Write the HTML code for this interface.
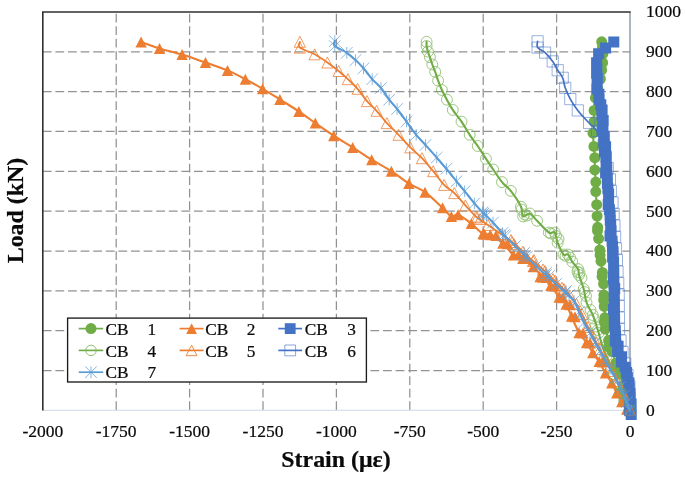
<!DOCTYPE html>
<html><head><meta charset="utf-8"><title>Load vs Strain</title>
<style>
html,body{margin:0;padding:0;background:#fff}
body{width:685px;height:478px;overflow:hidden}
text{font-family:"Liberation Serif","DejaVu Serif",serif;fill:#0a0a0a;stroke:#0a0a0a;stroke-width:0.22px}
.tk{font-size:17.5px}
.lg{font-size:17.3px}
.ttl{font-size:23.9px;font-weight:bold}
</style></head><body>
<svg width="685" height="478" viewBox="0 0 685 478" style="display:block">
<rect width="685" height="478" fill="#fff"/>
<path d="M116.20 410.00V11.95M189.60 410.00V11.95M263.00 410.00V11.95M336.40 410.00V11.95M409.80 410.00V11.95M483.20 410.00V11.95M556.60 410.00V11.95" stroke="#929292" stroke-width="1.25" stroke-dasharray="8.8 3.7" fill="none"/>
<path d="M42.80 51.80H630.00M42.80 91.64H630.00M42.80 131.48H630.00M42.80 171.33H630.00M42.80 211.17H630.00M42.80 251.02H630.00M42.80 290.87H630.00M42.80 330.71H630.00M42.80 370.55H630.00" stroke="#929292" stroke-width="1.25" stroke-dasharray="8.8 3.8" fill="none"/>
<path d="M42.80 410.40H630.00" stroke="#d9dfec" stroke-width="1.1" fill="none"/>
<path d="M630.00 11.95V410.40" stroke="#7f8896" stroke-width="1.25" fill="none"/>
<path d="M42.80 410.40V11.95H630.70" stroke="#303030" stroke-width="1.6" fill="none" stroke-linejoin="miter"/>
<path d="M601.7 41.8C601.8 42.7 602.3 45.3 602.5 47.3C602.7 49.3 602.8 51.3 602.8 53.9C602.8 56.5 602.8 60.0 602.6 62.7C602.4 65.4 602.0 67.3 601.6 70.0C601.2 72.7 601.1 76.0 600.4 79.0C599.7 82.0 598.4 84.8 597.6 88.0C596.8 91.2 596.0 94.2 595.4 97.9C594.8 101.6 594.3 106.4 594.1 110.4C593.9 114.4 594.3 117.9 594.1 121.7C593.9 125.5 593.0 129.1 593.0 133.2C593.0 137.3 593.6 142.3 593.9 146.4C594.2 150.5 594.6 153.8 594.8 157.7C594.9 161.6 594.6 165.8 594.8 169.9C595.0 174.0 595.6 178.5 595.8 182.1C596.0 185.7 595.6 187.8 595.8 191.6C595.9 195.4 596.5 200.6 596.7 204.7C596.9 208.8 596.9 212.2 597.1 216.0C597.2 219.8 597.5 223.5 597.7 227.3C598.0 231.1 598.2 234.8 598.6 238.6C598.9 242.4 599.4 246.1 599.8 249.9C600.2 253.7 600.6 257.4 601.0 261.2C601.5 265.0 601.9 268.7 602.4 272.5C602.8 276.3 603.3 280.0 603.6 283.8C603.8 287.6 603.8 291.3 603.9 295.1C604.0 298.9 604.1 302.6 604.3 306.4C604.4 310.2 604.7 313.9 604.9 317.7C605.1 321.5 604.8 325.2 605.4 329.0C606.1 332.8 607.5 336.5 608.6 340.3C609.7 344.1 610.9 347.8 612.1 351.6C613.3 355.4 614.7 359.1 616.0 362.9C617.3 366.7 618.6 370.4 619.8 374.2C621.0 378.0 622.1 381.7 623.1 385.5C624.2 389.3 625.1 393.0 626.1 396.8C627.2 400.6 628.8 405.9 629.4 408.1C630.0 410.3 629.9 409.8 630.0 410.1" stroke="#70AD47" stroke-width="2.1" fill="none" stroke-linejoin="round" stroke-linecap="round"/>
<g fill="#70AD47"><circle cx="601.7" cy="41.8" r="5.5"/><circle cx="602.5" cy="47.3" r="5.5"/><circle cx="602.8" cy="53.9" r="5.5"/><circle cx="602.6" cy="62.7" r="5.5"/><circle cx="601.6" cy="70.0" r="5.5"/><circle cx="600.4" cy="79.0" r="5.5"/><circle cx="597.6" cy="88.0" r="5.5"/><circle cx="595.4" cy="97.9" r="5.5"/><circle cx="594.1" cy="110.4" r="5.5"/><circle cx="594.1" cy="121.7" r="5.5"/><circle cx="593.0" cy="133.2" r="5.5"/><circle cx="593.9" cy="146.4" r="5.5"/><circle cx="594.8" cy="157.7" r="5.5"/><circle cx="594.8" cy="169.9" r="5.5"/><circle cx="595.8" cy="182.1" r="5.5"/><circle cx="595.8" cy="191.6" r="5.5"/><circle cx="596.7" cy="204.7" r="5.5"/><circle cx="597.1" cy="216.0" r="5.5"/><circle cx="597.7" cy="227.3" r="5.5"/><circle cx="598.6" cy="238.6" r="5.5"/><circle cx="599.8" cy="249.9" r="5.5"/><circle cx="601.0" cy="261.2" r="5.5"/><circle cx="602.4" cy="272.5" r="5.5"/><circle cx="603.6" cy="283.8" r="5.5"/><circle cx="603.9" cy="295.1" r="5.5"/><circle cx="604.3" cy="306.4" r="5.5"/><circle cx="604.9" cy="317.7" r="5.5"/><circle cx="605.4" cy="329.0" r="5.5"/><circle cx="608.6" cy="340.3" r="5.5"/><circle cx="612.1" cy="351.6" r="5.5"/><circle cx="616.0" cy="362.9" r="5.5"/><circle cx="619.8" cy="374.2" r="5.5"/><circle cx="623.1" cy="385.5" r="5.5"/><circle cx="626.1" cy="396.8" r="5.5"/><circle cx="629.4" cy="408.1" r="5.5"/><circle cx="630.0" cy="410.1" r="5.5"/><circle cx="597.5" cy="230.7" r="5.5"/><circle cx="600.1" cy="255.1" r="5.5"/><circle cx="602.1" cy="276.4" r="5.5"/><circle cx="603.7" cy="300.0" r="5.5"/><circle cx="604.4" cy="321.9" r="5.5"/><circle cx="608.6" cy="346.7" r="5.5"/><circle cx="616.1" cy="367.0" r="5.5"/><circle cx="622.7" cy="390.3" r="5.5"/><circle cx="628.8" cy="411.9" r="5.5"/></g>
<path d="M141.1 42.0C144.2 43.1 152.7 46.3 159.5 48.4C166.3 50.5 174.4 52.2 182.1 54.6C189.8 57.0 197.9 59.9 205.5 62.5C213.1 65.1 220.9 67.6 227.5 70.4C234.1 73.2 239.5 76.1 245.3 79.2C251.2 82.3 256.8 85.4 262.6 88.8C268.4 92.2 273.8 95.6 279.9 99.4C285.9 103.2 293.0 107.5 298.9 111.4C304.8 115.4 309.5 119.0 315.3 123.1C321.1 127.1 327.5 131.6 333.7 135.7C339.9 139.8 346.4 143.4 352.7 147.4C359.0 151.4 365.2 155.7 371.7 159.7C378.1 163.7 385.2 167.2 391.4 171.2C397.6 175.2 403.3 180.0 408.9 183.5C414.5 187.0 419.4 188.1 425.0 192.2C430.6 196.2 438.2 203.8 442.6 207.8C447.0 211.9 448.8 215.3 451.4 216.5C454.0 217.7 454.8 213.6 458.1 214.8C461.4 216.0 467.2 220.4 471.3 223.6C475.4 226.8 479.8 232.0 483.0 233.8C486.2 235.7 487.0 233.1 490.3 234.7C493.6 236.3 499.0 239.9 502.9 243.3C506.8 246.7 510.1 252.5 513.4 255.0C516.7 257.5 519.5 256.6 522.8 258.5C526.1 260.4 530.0 263.6 533.3 266.7C536.6 269.8 539.8 274.2 542.7 277.3C545.6 280.4 548.2 282.2 550.9 285.5C553.6 288.8 556.6 294.1 559.1 297.2C561.6 300.3 564.0 301.0 566.1 304.2C568.2 307.4 569.4 311.6 571.5 316.3C573.6 321.1 576.5 328.3 579.0 332.7C581.5 337.1 584.2 339.3 586.5 342.7C588.8 346.1 590.7 349.6 592.8 352.8C594.9 356.0 597.0 358.2 599.1 361.6C601.2 365.0 603.3 369.3 605.4 372.9C607.5 376.4 609.8 379.5 611.7 382.9C613.6 386.2 615.0 389.9 616.7 393.0C618.4 396.1 620.0 399.1 621.7 401.8C623.4 404.5 625.3 407.9 626.7 409.3C628.1 410.7 629.5 410.0 630.0 410.1" stroke="#ED7D31" stroke-width="2.1" fill="none" stroke-linejoin="round" stroke-linecap="round"/>
<path d="M141.1 36.5L146.8 47.5L135.4 47.5ZM159.5 42.9L165.2 53.9L153.8 53.9ZM182.1 49.1L187.8 60.1L176.4 60.1ZM205.5 57.0L211.2 68.0L199.8 68.0ZM227.5 64.9L233.2 75.9L221.8 75.9ZM245.3 73.7L251.0 84.7L239.7 84.7ZM262.6 83.3L268.2 94.3L257.0 94.3ZM279.9 93.9L285.5 104.9L274.2 104.9ZM298.9 105.9L304.5 116.9L293.2 116.9ZM315.3 117.6L320.9 128.6L309.7 128.6ZM333.7 130.2L339.3 141.2L328.1 141.2ZM352.7 141.9L358.3 152.9L347.1 152.9ZM371.7 154.2L377.3 165.2L366.1 165.2ZM391.4 165.7L397.0 176.7L385.8 176.7ZM408.9 178.0L414.5 189.0L403.2 189.0ZM425.0 186.7L430.6 197.7L419.4 197.7ZM442.6 202.3L448.2 213.3L437.0 213.3ZM451.4 211.0L457.0 222.0L445.8 222.0ZM458.1 209.3L463.8 220.3L452.5 220.3ZM471.3 218.1L476.9 229.1L465.7 229.1ZM483.0 228.3L488.6 239.3L477.4 239.3ZM490.3 229.2L495.9 240.2L484.7 240.2ZM502.9 237.8L508.5 248.8L497.2 248.8ZM513.4 249.5L519.0 260.5L507.8 260.5ZM522.8 253.0L528.4 264.0L517.1 264.0ZM533.3 261.2L538.9 272.2L527.6 272.2ZM542.7 271.8L548.4 282.8L537.1 282.8ZM550.9 280.0L556.5 291.0L545.2 291.0ZM559.1 291.7L564.8 302.7L553.5 302.7ZM566.1 298.7L571.8 309.7L560.5 309.7ZM571.5 310.8L577.1 321.8L565.9 321.8ZM579.0 327.2L584.6 338.2L573.4 338.2ZM586.5 337.2L592.1 348.2L580.9 348.2ZM592.8 347.3L598.4 358.3L587.1 358.3ZM599.1 356.1L604.8 367.1L593.5 367.1ZM605.4 367.4L611.0 378.4L599.8 378.4ZM611.7 377.4L617.4 388.4L606.1 388.4ZM616.7 387.5L622.4 398.5L611.1 398.5ZM621.7 396.3L627.4 407.3L616.1 407.3ZM626.7 403.8L632.4 414.8L621.1 414.8ZM630.0 404.6L635.6 415.6L624.4 415.6ZM484.5 228.7L490.1 239.7L478.9 239.7ZM496.0 230.0L501.6 241.0L490.4 241.0ZM507.5 238.3L513.1 249.3L501.9 249.3ZM518.5 249.0L524.1 260.0L512.9 260.0ZM527.5 253.0L533.1 264.0L521.9 264.0ZM540.0 271.3L545.6 282.3L534.4 282.3ZM546.5 272.1L552.1 283.1L540.9 283.1ZM555.0 280.5L560.6 291.5L549.4 291.5ZM563.0 292.3L568.6 303.3L557.4 303.3ZM570.0 299.3L575.6 310.3L564.4 310.3ZM575.0 311.3L580.6 322.3L569.4 322.3ZM583.0 327.5L588.6 338.5L577.4 338.5ZM590.0 337.5L595.6 348.5L584.4 348.5ZM602.5 356.5L608.1 367.5L596.9 367.5Z" fill="#ED7D31"/>
<path d="M613.8 42.0C612.4 43.0 608.1 45.9 605.6 47.9C603.1 49.9 600.1 51.2 598.6 53.7C597.1 56.2 596.9 59.5 596.6 62.7C596.3 66.0 596.5 69.7 596.6 73.2C596.7 76.7 596.8 80.2 597.1 83.7C597.5 87.2 598.2 90.7 598.9 94.2C599.5 97.7 600.3 101.2 600.8 104.7C601.4 108.2 601.6 111.7 601.9 115.2C602.3 118.7 602.5 122.2 602.9 125.7C603.3 129.2 603.9 132.7 604.3 136.2C604.7 139.7 605.3 143.2 605.6 146.7C605.9 150.2 605.9 153.7 606.1 157.2C606.3 160.7 606.5 164.2 606.7 167.7C606.9 171.2 607.1 174.7 607.3 178.2C607.5 181.7 607.7 185.2 607.9 188.7C608.2 192.2 608.4 195.7 608.6 199.2C608.9 202.7 609.1 206.2 609.4 209.7C609.7 213.2 610.0 216.7 610.3 220.2C610.5 223.7 610.8 227.2 611.1 230.7C611.4 234.2 611.8 237.7 612.1 241.2C612.4 244.7 612.8 248.2 613.1 251.7C613.3 255.2 613.5 258.7 613.6 262.2C613.7 265.7 613.7 269.2 613.8 272.7C613.8 276.2 613.9 279.7 613.9 283.2C614.0 286.7 614.1 290.2 614.1 293.7C614.2 297.2 614.3 300.7 614.3 304.2C614.3 307.7 614.3 311.2 614.3 314.7C614.3 318.2 614.1 321.7 614.3 325.2C614.5 328.7 615.0 332.2 615.6 335.7C616.3 339.2 617.2 342.7 618.1 346.2C619.1 349.7 620.3 353.2 621.5 356.7C622.7 360.2 624.2 363.7 625.2 367.2C626.2 370.7 626.8 374.2 627.4 377.7C628.1 381.2 628.9 384.7 629.3 388.2C629.7 391.7 629.6 395.2 629.7 398.7C629.8 402.2 630.0 407.3 630.0 409.2C630.0 411.1 630.0 410.0 630.0 410.1" stroke="#4472C4" stroke-width="2.1" fill="none" stroke-linejoin="round" stroke-linecap="round"/>
<path d="M608.3 36.5h11.0v11.0h-11.0zM600.1 42.4h11.0v11.0h-11.0zM593.1 48.2h11.0v11.0h-11.0zM591.1 57.2h11.0v11.0h-11.0zM591.1 67.7h11.0v11.0h-11.0zM591.6 78.2h11.0v11.0h-11.0zM593.4 88.7h11.0v11.0h-11.0zM595.3 99.2h11.0v11.0h-11.0zM596.4 109.7h11.0v11.0h-11.0zM597.4 120.2h11.0v11.0h-11.0zM598.8 130.7h11.0v11.0h-11.0zM600.1 141.2h11.0v11.0h-11.0zM600.6 151.7h11.0v11.0h-11.0zM601.2 162.2h11.0v11.0h-11.0zM601.8 172.7h11.0v11.0h-11.0zM602.4 183.2h11.0v11.0h-11.0zM603.1 193.7h11.0v11.0h-11.0zM603.9 204.2h11.0v11.0h-11.0zM604.8 214.7h11.0v11.0h-11.0zM605.6 225.2h11.0v11.0h-11.0zM606.6 235.7h11.0v11.0h-11.0zM607.6 246.2h11.0v11.0h-11.0zM608.1 256.7h11.0v11.0h-11.0zM608.3 267.2h11.0v11.0h-11.0zM608.4 277.7h11.0v11.0h-11.0zM608.6 288.2h11.0v11.0h-11.0zM608.8 298.7h11.0v11.0h-11.0zM608.8 309.2h11.0v11.0h-11.0zM608.8 319.7h11.0v11.0h-11.0zM610.1 330.2h11.0v11.0h-11.0zM612.6 340.7h11.0v11.0h-11.0zM616.0 351.2h11.0v11.0h-11.0zM619.7 361.7h11.0v11.0h-11.0zM621.9 372.2h11.0v11.0h-11.0zM623.8 382.7h11.0v11.0h-11.0zM624.2 393.2h11.0v11.0h-11.0zM624.5 403.7h11.0v11.0h-11.0zM624.5 404.6h11.0v11.0h-11.0zM591.4 62.4h11.0v11.0h-11.0zM591.9 72.9h11.0v11.0h-11.0zM591.3 83.4h11.0v11.0h-11.0zM593.6 93.9h11.0v11.0h-11.0zM596.6 104.4h11.0v11.0h-11.0zM597.7 114.9h11.0v11.0h-11.0zM596.6 125.4h11.0v11.0h-11.0zM598.2 135.9h11.0v11.0h-11.0zM599.0 146.4h11.0v11.0h-11.0zM600.6 156.9h11.0v11.0h-11.0zM600.1 167.4h11.0v11.0h-11.0zM601.9 177.9h11.0v11.0h-11.0zM603.1 188.4h11.0v11.0h-11.0zM602.7 198.9h11.0v11.0h-11.0zM604.6 209.4h11.0v11.0h-11.0zM605.2 219.9h11.0v11.0h-11.0zM604.5 230.4h11.0v11.0h-11.0zM607.0 240.9h11.0v11.0h-11.0zM607.1 251.4h11.0v11.0h-11.0zM608.1 261.9h11.0v11.0h-11.0zM607.9 272.4h11.0v11.0h-11.0zM609.2 282.9h11.0v11.0h-11.0zM608.6 293.4h11.0v11.0h-11.0zM608.0 303.9h11.0v11.0h-11.0zM609.1 314.4h11.0v11.0h-11.0zM609.8 324.9h11.0v11.0h-11.0zM609.8 335.4h11.0v11.0h-11.0zM612.1 345.9h11.0v11.0h-11.0zM615.9 356.4h11.0v11.0h-11.0zM621.1 366.9h11.0v11.0h-11.0zM623.5 377.4h11.0v11.0h-11.0zM624.5 387.9h11.0v11.0h-11.0zM625.6 398.4h11.0v11.0h-11.0zM625.7 408.9h11.0v11.0h-11.0z" fill="#4472C4"/>
<path d="M426.6 41.8C426.6 42.5 426.4 44.4 426.6 46.0C426.8 47.6 427.3 49.7 427.9 51.6C428.4 53.5 429.2 55.1 429.9 57.2C430.6 59.4 431.4 62.0 432.3 64.5C433.2 67.0 434.2 69.2 435.2 71.9C436.2 74.6 437.0 77.6 438.1 80.6C439.2 83.6 440.4 86.8 441.9 90.0C443.4 93.2 445.1 96.4 446.9 99.7C448.7 103.0 450.4 106.2 452.8 109.9C455.2 113.6 458.7 117.4 461.5 121.6C464.3 125.8 467.0 130.7 469.7 134.8C472.4 138.9 475.0 142.0 477.7 146.0C480.4 150.0 483.3 154.8 485.9 158.7C488.5 162.6 490.5 165.6 493.2 169.5C495.9 173.4 499.1 178.5 502.0 182.1C504.9 185.7 507.6 186.8 510.8 190.9C514.0 195.0 519.0 202.4 521.0 206.7C523.0 210.9 521.6 215.3 523.1 216.4C524.6 217.5 527.5 212.8 529.8 213.5C532.1 214.2 533.9 217.6 537.1 220.8C540.3 224.0 545.9 230.6 548.8 232.5C551.7 234.4 553.2 230.8 554.7 232.5C556.2 234.2 556.1 239.0 557.6 242.7C559.1 246.4 561.8 252.5 563.5 254.5C565.2 256.5 566.4 253.3 567.9 254.5C569.4 255.7 570.6 259.4 572.3 261.8C574.0 264.2 577.0 266.9 578.1 269.1C579.2 271.3 578.1 271.7 579.0 275.0C579.9 278.3 582.5 284.4 583.7 289.0C585.0 293.6 585.0 298.2 586.5 302.5C588.0 306.8 590.9 310.4 592.8 315.0C594.7 319.6 596.1 324.6 597.8 330.0C599.5 335.4 601.4 343.4 602.9 347.7C604.4 352.0 605.2 353.1 606.5 356.0C607.8 358.9 609.1 362.3 610.4 365.3C611.6 368.3 612.7 371.1 614.0 374.0C615.3 376.9 616.8 380.0 618.0 383.0C619.2 386.0 620.0 389.1 621.0 392.0C622.0 394.9 622.7 397.5 624.2 400.5C625.7 403.5 629.0 408.5 630.0 410.1" stroke="#70AD47" stroke-width="2.1" fill="none" stroke-linejoin="round" stroke-linecap="round"/>
<g fill="none" stroke="#70AD47" stroke-width="0.95" opacity="0.72"><circle cx="426.6" cy="41.8" r="5.45"/><circle cx="426.6" cy="46.0" r="5.45"/><circle cx="427.9" cy="51.6" r="5.45"/><circle cx="429.9" cy="57.2" r="5.45"/><circle cx="432.3" cy="64.5" r="5.45"/><circle cx="435.2" cy="71.9" r="5.45"/><circle cx="438.1" cy="80.6" r="5.45"/><circle cx="441.9" cy="90.0" r="5.45"/><circle cx="446.9" cy="99.7" r="5.45"/><circle cx="452.8" cy="109.9" r="5.45"/><circle cx="461.5" cy="121.6" r="5.45"/><circle cx="469.7" cy="134.8" r="5.45"/><circle cx="477.7" cy="146.0" r="5.45"/><circle cx="485.9" cy="158.7" r="5.45"/><circle cx="493.2" cy="169.5" r="5.45"/><circle cx="502.0" cy="182.1" r="5.45"/><circle cx="510.8" cy="190.9" r="5.45"/><circle cx="521.0" cy="206.7" r="5.45"/><circle cx="523.1" cy="216.4" r="5.45"/><circle cx="529.8" cy="213.5" r="5.45"/><circle cx="537.1" cy="220.8" r="5.45"/><circle cx="548.8" cy="232.5" r="5.45"/><circle cx="554.7" cy="232.5" r="5.45"/><circle cx="557.6" cy="242.7" r="5.45"/><circle cx="563.5" cy="254.5" r="5.45"/><circle cx="567.9" cy="254.5" r="5.45"/><circle cx="572.3" cy="261.8" r="5.45"/><circle cx="578.1" cy="269.1" r="5.45"/><circle cx="579.0" cy="275.0" r="5.45"/><circle cx="583.7" cy="289.0" r="5.45"/><circle cx="586.5" cy="302.5" r="5.45"/><circle cx="592.8" cy="315.0" r="5.45"/><circle cx="597.8" cy="330.0" r="5.45"/><circle cx="602.9" cy="347.7" r="5.45"/><circle cx="606.5" cy="356.0" r="5.45"/><circle cx="610.4" cy="365.3" r="5.45"/><circle cx="614.0" cy="374.0" r="5.45"/><circle cx="618.0" cy="383.0" r="5.45"/><circle cx="621.0" cy="392.0" r="5.45"/><circle cx="624.2" cy="400.5" r="5.45"/><circle cx="630.0" cy="410.1" r="5.45"/><circle cx="521.5" cy="209.5" r="5.45"/><circle cx="524.5" cy="214.5" r="5.45"/><circle cx="527.0" cy="215.5" r="5.45"/><circle cx="551.0" cy="233.5" r="5.45"/><circle cx="556.0" cy="236.0" r="5.45"/><circle cx="558.5" cy="239.0" r="5.45"/><circle cx="565.5" cy="255.8" r="5.45"/><circle cx="570.0" cy="257.5" r="5.45"/><circle cx="579.5" cy="272.5" r="5.45"/><circle cx="581.5" cy="278.0" r="5.45"/><circle cx="577.5" cy="272.0" r="5.45"/><circle cx="584.5" cy="292.0" r="5.45"/><circle cx="586.0" cy="296.0" r="5.45"/><circle cx="590.5" cy="310.0" r="5.45"/><circle cx="593.5" cy="318.5" r="5.45"/><circle cx="595.5" cy="326.5" r="5.45"/><circle cx="598.5" cy="333.0" r="5.45"/></g>
<path d="M299.9 41.8C299.9 42.8 297.4 45.5 299.9 47.6C302.3 49.7 310.0 51.8 314.6 54.3C319.2 56.8 323.4 59.7 327.4 62.5C331.4 65.3 335.2 68.2 338.6 71.0C342.0 73.8 344.7 76.2 347.9 79.2C351.1 82.2 354.4 85.2 357.6 88.8C360.8 92.4 363.8 97.4 367.0 101.1C370.2 104.8 373.3 107.1 376.6 110.8C379.9 114.5 383.2 119.1 386.9 123.1C390.6 127.1 394.7 130.8 398.6 134.8C402.5 138.9 406.4 143.5 410.3 147.4C414.2 151.3 418.2 154.2 422.0 158.2C425.8 162.2 429.5 166.8 433.2 171.2C436.9 175.6 440.6 181.2 444.1 184.9C447.6 188.6 450.8 189.7 454.3 193.1C457.9 196.5 461.8 201.5 465.4 205.4C469.0 209.3 472.1 213.2 475.9 216.5C479.7 219.8 483.8 222.1 488.0 225.0C492.2 227.9 497.0 231.2 501.0 234.0C505.0 236.8 508.3 239.1 512.0 242.0C515.7 244.9 519.5 248.3 523.0 251.5C526.5 254.7 529.7 258.0 533.0 261.0C536.3 264.0 539.7 266.5 543.0 269.5C546.3 272.5 549.8 276.0 553.0 279.0C556.2 282.0 559.2 284.8 562.0 287.5C564.8 290.2 567.6 292.8 570.0 295.5C572.4 298.2 574.5 300.9 576.5 304.0C578.5 307.1 580.1 310.2 582.0 314.0C583.9 317.8 586.0 323.0 588.0 327.0C590.0 331.0 592.0 334.3 594.0 338.0C596.0 341.7 598.0 345.3 600.0 349.0C602.0 352.7 604.0 356.3 606.0 360.0C608.0 363.7 610.2 367.5 612.0 371.0C613.8 374.5 615.3 377.7 617.0 381.0C618.7 384.3 620.5 387.8 622.0 391.0C623.5 394.2 624.7 396.8 626.0 400.0C627.3 403.2 629.3 408.4 630.0 410.1" stroke="#ED7D31" stroke-width="1.8" fill="none" stroke-linejoin="round" stroke-linecap="round"/>
<path d="M299.9 36.3L305.5 47.3L294.2 47.3ZM299.9 42.1L305.5 53.1L294.2 53.1ZM314.6 48.8L320.2 59.8L309.0 59.8ZM327.4 57.0L333.0 68.0L321.8 68.0ZM338.6 65.5L344.2 76.5L333.0 76.5ZM347.9 73.7L353.5 84.7L342.2 84.7ZM357.6 83.3L363.2 94.3L352.0 94.3ZM367.0 95.6L372.6 106.6L361.4 106.6ZM376.6 105.3L382.2 116.3L371.0 116.3ZM386.9 117.6L392.5 128.6L381.2 128.6ZM398.6 129.3L404.2 140.3L393.0 140.3ZM410.3 141.9L415.9 152.9L404.7 152.9ZM422.0 152.7L427.6 163.7L416.4 163.7ZM433.2 165.7L438.8 176.7L427.6 176.7ZM444.1 179.4L449.8 190.4L438.5 190.4ZM454.3 187.6L459.9 198.6L448.7 198.6ZM465.4 199.9L471.0 210.9L459.8 210.9ZM475.9 211.0L481.5 222.0L470.2 222.0ZM488.0 219.5L493.6 230.5L482.4 230.5ZM501.0 228.5L506.6 239.5L495.4 239.5ZM512.0 236.5L517.6 247.5L506.4 247.5ZM523.0 246.0L528.6 257.0L517.4 257.0ZM533.0 255.5L538.6 266.5L527.4 266.5ZM543.0 264.0L548.6 275.0L537.4 275.0ZM553.0 273.5L558.6 284.5L547.4 284.5ZM562.0 282.0L567.6 293.0L556.4 293.0ZM570.0 290.0L575.6 301.0L564.4 301.0ZM576.5 298.5L582.1 309.5L570.9 309.5ZM582.0 308.5L587.6 319.5L576.4 319.5ZM588.0 321.5L593.6 332.5L582.4 332.5ZM594.0 332.5L599.6 343.5L588.4 343.5ZM600.0 343.5L605.6 354.5L594.4 354.5ZM606.0 354.5L611.6 365.5L600.4 365.5ZM612.0 365.5L617.6 376.5L606.4 376.5ZM617.0 375.5L622.6 386.5L611.4 386.5ZM622.0 385.5L627.6 396.5L616.4 396.5ZM626.0 394.5L631.6 405.5L620.4 405.5ZM630.0 404.6L635.6 415.6L624.4 415.6ZM477.0 212.0L482.6 223.0L471.4 223.0ZM480.0 213.5L485.6 224.5L474.4 224.5ZM511.0 234.5L516.6 245.5L505.4 245.5ZM514.0 238.5L519.6 249.5L508.4 249.5ZM534.0 254.5L539.6 265.5L528.4 265.5ZM545.0 265.5L550.6 276.5L539.4 276.5ZM555.0 275.0L560.6 286.0L549.4 286.0ZM564.0 283.5L569.6 294.5L558.4 294.5Z" fill="none" stroke="#ED7D31" stroke-width="0.9" opacity="0.85"/>
<path d="M537.6 41.3C537.6 42.3 536.4 45.7 537.6 47.6C538.9 49.5 542.6 50.3 545.1 52.6C547.6 54.9 550.6 58.5 552.7 61.4C554.8 64.3 556.0 67.5 557.7 70.2C559.4 72.9 561.5 74.9 562.7 77.8C564.0 80.7 563.9 84.2 565.2 87.8C566.5 91.3 568.2 95.3 570.3 99.1C572.4 102.9 574.7 106.4 577.8 110.4C580.9 114.4 585.9 119.6 589.1 123.0C592.3 126.4 594.6 127.3 597.0 131.0C599.4 134.7 602.1 140.8 603.6 145.0C605.1 149.2 605.0 152.7 605.7 156.5C606.4 160.3 607.0 164.2 607.7 168.0C608.4 171.8 609.4 175.7 609.9 179.5C610.4 183.3 610.4 187.2 610.8 191.0C611.3 194.8 612.1 198.7 612.5 202.5C613.0 206.3 613.3 210.2 613.6 214.0C613.9 217.8 614.1 221.7 614.4 225.5C614.6 229.3 614.9 233.2 615.1 237.0C615.4 240.8 615.7 244.7 616.0 248.5C616.3 252.3 616.6 256.2 616.9 260.0C617.1 263.8 617.3 267.7 617.5 271.5C617.8 275.3 618.0 279.2 618.2 283.0C618.4 286.8 618.6 290.7 618.7 294.5C618.8 298.3 618.8 302.2 618.8 306.0C618.8 309.8 618.9 313.7 618.9 317.5C618.9 321.3 618.7 325.2 619.0 329.0C619.3 332.8 620.0 336.7 620.5 340.5C621.1 344.3 621.7 348.2 622.5 352.0C623.3 355.8 624.5 359.7 625.3 363.5C626.1 367.3 626.9 371.2 627.5 375.0C628.2 378.8 629.0 382.7 629.4 386.5C629.8 390.3 629.8 394.2 629.9 398.0C630.0 401.8 630.0 407.5 630.0 409.5C630.0 411.5 630.0 410.0 630.0 410.1" stroke="#4472C4" stroke-width="1.7" fill="none" stroke-linejoin="round" stroke-linecap="round"/>
<path d="M532.0 35.7h11.2v11.2h-11.2zM532.0 42.0h11.2v11.2h-11.2zM539.5 47.0h11.2v11.2h-11.2zM547.1 55.8h11.2v11.2h-11.2zM552.1 64.6h11.2v11.2h-11.2zM557.1 72.2h11.2v11.2h-11.2zM559.6 82.2h11.2v11.2h-11.2zM564.7 93.5h11.2v11.2h-11.2zM572.2 104.8h11.2v11.2h-11.2zM583.5 117.4h11.2v11.2h-11.2zM591.4 125.4h11.2v11.2h-11.2zM598.0 139.4h11.2v11.2h-11.2zM600.1 150.9h11.2v11.2h-11.2zM602.1 162.4h11.2v11.2h-11.2zM604.3 173.9h11.2v11.2h-11.2zM605.2 185.4h11.2v11.2h-11.2zM606.9 196.9h11.2v11.2h-11.2zM608.0 208.4h11.2v11.2h-11.2zM608.8 219.9h11.2v11.2h-11.2zM609.5 231.4h11.2v11.2h-11.2zM610.4 242.9h11.2v11.2h-11.2zM611.3 254.4h11.2v11.2h-11.2zM611.9 265.9h11.2v11.2h-11.2zM612.6 277.4h11.2v11.2h-11.2zM613.1 288.9h11.2v11.2h-11.2zM613.2 300.4h11.2v11.2h-11.2zM613.3 311.9h11.2v11.2h-11.2zM613.4 323.4h11.2v11.2h-11.2zM614.9 334.9h11.2v11.2h-11.2zM616.9 346.4h11.2v11.2h-11.2zM619.7 357.9h11.2v11.2h-11.2zM621.9 369.4h11.2v11.2h-11.2zM623.8 380.9h11.2v11.2h-11.2zM624.3 392.4h11.2v11.2h-11.2zM624.4 403.9h11.2v11.2h-11.2zM624.4 404.5h11.2v11.2h-11.2z" fill="none" stroke="#4472C4" stroke-width="1" opacity="0.55"/>
<path d="M334.8 41.1C334.8 41.9 332.8 44.2 334.8 46.1C336.8 48.0 343.4 50.5 346.8 52.8C350.2 55.1 352.7 57.5 355.5 60.1C358.3 62.7 360.7 65.1 363.5 68.3C366.3 71.5 369.3 75.9 372.2 79.2C375.1 82.5 378.2 84.6 381.0 88.0C383.8 91.4 386.5 96.2 389.2 99.7C391.9 103.2 394.2 105.3 397.1 109.0C400.0 112.7 403.3 117.3 406.5 121.6C409.7 125.9 413.0 130.9 416.2 134.8C419.4 138.7 422.1 141.2 425.5 145.0C428.9 148.8 433.2 153.6 436.7 157.6C440.2 161.6 443.1 164.9 446.4 168.8C449.7 172.8 453.5 177.6 456.5 181.3C459.5 185.0 461.6 187.5 464.6 191.2C467.6 194.9 471.4 199.9 474.4 203.4C477.4 206.9 480.7 210.5 482.5 212.3C484.3 214.2 483.2 212.8 485.0 214.5C486.8 216.2 489.8 219.1 493.0 222.5C496.2 225.9 500.3 231.1 504.0 235.0C507.7 238.9 511.5 242.5 515.0 246.0C518.5 249.5 521.5 252.7 525.0 256.0C528.5 259.3 532.5 262.8 536.0 266.0C539.5 269.2 542.7 272.0 546.0 275.0C549.3 278.0 552.8 281.1 556.0 284.0C559.2 286.9 562.0 289.7 565.0 292.5C568.0 295.3 571.7 297.8 574.0 301.0C576.3 304.2 577.3 308.4 579.0 312.0C580.7 315.6 582.2 319.1 584.0 322.6C585.8 326.1 588.1 329.6 590.0 333.0C591.9 336.4 593.6 339.7 595.3 342.7C597.0 345.7 598.3 348.1 600.0 351.0C601.7 353.9 603.7 357.3 605.4 360.3C607.1 363.3 608.3 366.1 610.0 369.0C611.7 371.9 613.7 374.9 615.4 377.9C617.1 380.9 618.5 384.1 620.0 387.0C621.5 389.9 623.0 393.0 624.2 395.5C625.4 398.0 626.0 399.6 627.0 402.0C628.0 404.4 629.5 408.8 630.0 410.1" stroke="#5B9BD5" stroke-width="2.1" fill="none" stroke-linejoin="round" stroke-linecap="round"/>
<path d="M334.8 35.3V46.9M329.0 35.3L340.6 46.9M329.0 46.9L340.6 35.3M334.8 40.3V51.9M329.0 40.3L340.6 51.9M329.0 51.9L340.6 40.3M346.8 47.0V58.6M341.0 47.0L352.6 58.6M341.0 58.6L352.6 47.0M355.5 54.3V65.9M349.7 54.3L361.3 65.9M349.7 65.9L361.3 54.3M363.5 62.5V74.1M357.7 62.5L369.3 74.1M357.7 74.1L369.3 62.5M372.2 73.4V85.0M366.4 73.4L378.0 85.0M366.4 85.0L378.0 73.4M381.0 82.2V93.8M375.2 82.2L386.8 93.8M375.2 93.8L386.8 82.2M389.2 93.9V105.5M383.4 93.9L395.0 105.5M383.4 105.5L395.0 93.9M397.1 103.2V114.8M391.3 103.2L402.9 114.8M391.3 114.8L402.9 103.2M406.5 115.8V127.4M400.7 115.8L412.3 127.4M400.7 127.4L412.3 115.8M416.2 129.0V140.6M410.4 129.0L422.0 140.6M410.4 140.6L422.0 129.0M425.5 139.2V150.8M419.7 139.2L431.3 150.8M419.7 150.8L431.3 139.2M436.7 151.8V163.4M430.9 151.8L442.5 163.4M430.9 163.4L442.5 151.8M446.4 163.0V174.6M440.6 163.0L452.2 174.6M440.6 174.6L452.2 163.0M456.5 175.5V187.1M450.7 175.5L462.3 187.1M450.7 187.1L462.3 175.5M464.6 185.4V197.0M458.8 185.4L470.4 197.0M458.8 197.0L470.4 185.4M474.4 197.6V209.2M468.6 197.6L480.2 209.2M468.6 209.2L480.2 197.6M482.5 206.5V218.1M476.7 206.5L488.3 218.1M476.7 218.1L488.3 206.5M485.0 208.7V220.3M479.2 208.7L490.8 220.3M479.2 220.3L490.8 208.7M493.0 216.7V228.3M487.2 216.7L498.8 228.3M487.2 228.3L498.8 216.7M504.0 229.2V240.8M498.2 229.2L509.8 240.8M498.2 240.8L509.8 229.2M515.0 240.2V251.8M509.2 240.2L520.8 251.8M509.2 251.8L520.8 240.2M525.0 250.2V261.8M519.2 250.2L530.8 261.8M519.2 261.8L530.8 250.2M536.0 260.2V271.8M530.2 260.2L541.8 271.8M530.2 271.8L541.8 260.2M546.0 269.2V280.8M540.2 269.2L551.8 280.8M540.2 280.8L551.8 269.2M556.0 278.2V289.8M550.2 278.2L561.8 289.8M550.2 289.8L561.8 278.2M565.0 286.7V298.3M559.2 286.7L570.8 298.3M559.2 298.3L570.8 286.7M574.0 295.2V306.8M568.2 295.2L579.8 306.8M568.2 306.8L579.8 295.2M579.0 306.2V317.8M573.2 306.2L584.8 317.8M573.2 317.8L584.8 306.2M584.0 316.8V328.4M578.2 316.8L589.8 328.4M578.2 328.4L589.8 316.8M590.0 327.2V338.8M584.2 327.2L595.8 338.8M584.2 338.8L595.8 327.2M595.3 336.9V348.5M589.5 336.9L601.1 348.5M589.5 348.5L601.1 336.9M600.0 345.2V356.8M594.2 345.2L605.8 356.8M594.2 356.8L605.8 345.2M605.4 354.5V366.1M599.6 354.5L611.2 366.1M599.6 366.1L611.2 354.5M610.0 363.2V374.8M604.2 363.2L615.8 374.8M604.2 374.8L615.8 363.2M615.4 372.1V383.7M609.6 372.1L621.2 383.7M609.6 383.7L621.2 372.1M620.0 381.2V392.8M614.2 381.2L625.8 392.8M614.2 392.8L625.8 381.2M624.2 389.7V401.3M618.4 389.7L630.0 401.3M618.4 401.3L630.0 389.7M627.0 396.2V407.8M621.2 396.2L632.8 407.8M621.2 407.8L632.8 396.2M630.0 404.3V415.9M624.2 404.3L635.8 415.9M624.2 415.9L635.8 404.3M483.5 207.7V219.3M477.7 207.7L489.3 219.3M477.7 219.3L489.3 207.7M486.5 209.7V221.3M480.7 209.7L492.3 221.3M480.7 221.3L492.3 209.7M502.5 227.2V238.8M496.7 227.2L508.3 238.8M496.7 238.8L508.3 227.2M505.5 230.2V241.8M499.7 230.2L511.3 241.8M499.7 241.8L511.3 230.2M524.0 247.2V258.8M518.2 247.2L529.8 258.8M518.2 258.8L529.8 247.2M527.0 250.7V262.3M521.2 250.7L532.8 262.3M521.2 262.3L532.8 250.7M546.0 267.0V278.6M540.2 267.0L551.8 278.6M540.2 278.6L551.8 267.0M549.0 270.2V281.8M543.2 270.2L554.8 281.8M543.2 281.8L554.8 270.2M566.0 285.2V296.8M560.2 285.2L571.8 296.8M560.2 296.8L571.8 285.2M569.0 289.2V300.8M563.2 289.2L574.8 300.8M563.2 300.8L574.8 289.2" fill="none" stroke="#5B9BD5" stroke-width="1" opacity="0.7"/>
<rect x="67.6" y="318.1" width="298.8" height="63.9" fill="#fff" stroke="#1c1c1c" stroke-width="1.35"/>
<path d="M78.7 328.6H103.2" stroke="#70AD47" stroke-width="1.7"/>
<circle cx="91.0" cy="328.6" r="5.5" fill="#70AD47"/>
<text x="105.6" y="335.2" class="lg">CB</text><text x="147.6" y="335.2" class="lg">1</text>
<path d="M179.6 328.6H203.5" stroke="#ED7D31" stroke-width="1.7"/>
<path d="M191.6 323.3L197.0 333.9L186.2 333.9Z" fill="#ED7D31"/>
<text x="205.2" y="335.2" class="lg">CB</text><text x="246.7" y="335.2" class="lg">2</text>
<path d="M278.3 328.6H302.1" stroke="#4472C4" stroke-width="1.7"/>
<path d="M284.8 323.2h10.8v10.8h-10.8z" fill="#4472C4"/>
<text x="304.7" y="335.2" class="lg">CB</text><text x="347.2" y="335.2" class="lg">3</text>
<path d="M78.7 350.4H103.2" stroke="#70AD47" stroke-width="1.7"/>
<circle cx="91.0" cy="350.4" r="5.2" fill="none" stroke="#70AD47" stroke-width="0.9" opacity="0.85"/>
<text x="105.6" y="356.6" class="lg">CB</text><text x="147.6" y="356.6" class="lg">4</text>
<path d="M179.6 350.4H203.5" stroke="#ED7D31" stroke-width="1.7"/>
<path d="M191.6 345.1L197.0 355.7L186.2 355.7Z" fill="none" stroke="#ED7D31" stroke-width="0.9"/>
<text x="205.2" y="356.6" class="lg">CB</text><text x="246.7" y="356.6" class="lg">5</text>
<path d="M278.3 350.4H302.1" stroke="#4472C4" stroke-width="1.7"/>
<path d="M284.8 345.0h10.8v10.8h-10.8z" fill="none" stroke="#4472C4" stroke-width="0.9" opacity="0.7"/>
<text x="304.7" y="356.6" class="lg">CB</text><text x="347.2" y="356.6" class="lg">6</text>
<path d="M78.7 372.2H103.2" stroke="#5B9BD5" stroke-width="1.7"/>
<path d="M91.0 366.4V378.0M85.2 366.4L96.8 378.0M85.2 378.0L96.8 366.4" fill="none" stroke="#5B9BD5" stroke-width="0.9" opacity="0.85"/>
<text x="105.6" y="378.0" class="lg">CB</text><text x="147.6" y="378.0" class="lg">7</text>
<text x="42.8" y="437.2" class="tk" text-anchor="middle">-2000</text>
<text x="116.2" y="437.2" class="tk" text-anchor="middle">-1750</text>
<text x="189.6" y="437.2" class="tk" text-anchor="middle">-1500</text>
<text x="263.0" y="437.2" class="tk" text-anchor="middle">-1250</text>
<text x="336.4" y="437.2" class="tk" text-anchor="middle">-1000</text>
<text x="409.8" y="437.2" class="tk" text-anchor="middle">-750</text>
<text x="483.2" y="437.2" class="tk" text-anchor="middle">-500</text>
<text x="556.6" y="437.2" class="tk" text-anchor="middle">-250</text>
<text x="630.0" y="437.2" class="tk" text-anchor="middle">0</text>
<text x="646" y="415.8" class="tk">0</text>
<text x="646" y="376.0" class="tk">100</text>
<text x="646" y="336.1" class="tk">200</text>
<text x="646" y="296.3" class="tk">300</text>
<text x="646" y="256.4" class="tk">400</text>
<text x="646" y="216.6" class="tk">500</text>
<text x="646" y="176.7" class="tk">600</text>
<text x="646" y="136.9" class="tk">700</text>
<text x="646" y="97.0" class="tk">800</text>
<text x="646" y="57.2" class="tk">900</text>
<text x="646" y="17.3" class="tk">1000</text>
<text x="336" y="466.7" class="ttl" text-anchor="middle">Strain (με)</text>
<text transform="translate(22.5 210.5) rotate(-90)" class="ttl" text-anchor="middle">Load (kN)</text>
</svg>
</body></html>
